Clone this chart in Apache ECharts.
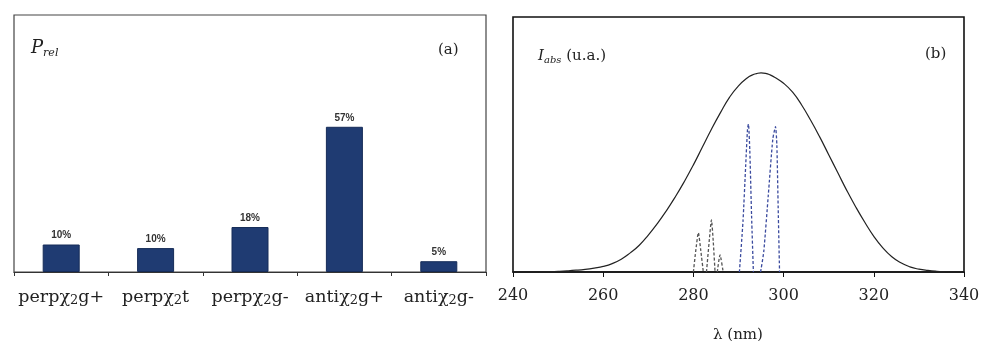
<!DOCTYPE html>
<html><head><meta charset="utf-8">
<script src="https://cdn.jsdelivr.net/npm/echarts@6/dist/echarts.min.js"></script>
<style>html,body{margin:0;padding:0;background:#fff}#c{width:991px;height:341px}</style>
</head><body><div id="c"></div>
<script>
// ---- data ----
var categories = [['perp','g+'],['perp','t'],['perp','g-'],['anti','g+'],['anti','g-']];
var barValues = [10.7, 9.3, 17.5, 56.5, 4.2];
var barLabels = ['10%','10%','18%','57%','5%'];
var xTicks = [240,260,280,300,320,340];
// absorption envelope (lambda nm, intensity a.u.)
var envLambda = [240,242,244,246,248,250,252,254,256,258,260,262,264,266,268,270,272,274,276,278,280,282,284,286,288,290,292,293,294,295,296,297,298,300,302,304,306,308,310,312,314,316,318,320,322,324,326,328,330,332,334,336,338,340];
var envValue  = [0,0.0003,0.0006,0.001,0.0017,0.0028,0.0045,0.007,0.0105,0.0155,0.022,0.033,0.05,0.075,0.105,0.145,0.19,0.24,0.295,0.355,0.42,0.49,0.56,0.625,0.685,0.73,0.762,0.772,0.778,0.781,0.779,0.773,0.764,0.74,0.705,0.655,0.595,0.53,0.46,0.39,0.32,0.255,0.195,0.14,0.095,0.06,0.036,0.02,0.011,0.006,0.003,0.0015,0.0005,0];
// individual conformer bands
var peak1 = [[280.0,0],[280.5,0.08],[281.1,0.154],[281.6,0.09],[282.2,0]];
var peak2 = [[282.9,0],[283.5,0.12],[284.0,0.204],[284.4,0.12],[284.8,0]];
var peak3 = [[285.3,0],[285.9,0.067],[286.6,0]];
var peak4 = [[290.2,0],[291.0,0.2],[291.6,0.42],[292.0,0.56],[292.2,0.58],[292.5,0.48],[292.9,0.22],[293.3,0]];
var peak5 = [[294.9,0],[295.6,0.08],[296.6,0.3],[297.6,0.52],[298.2,0.57],[298.5,0.5],[298.8,0.25],[299.1,0]];

var chart = echarts.init(document.getElementById('c'));
var serif = 'DejaVu Serif';
function pairs(xs, ys){ return xs.map(function(x,i){return [x, ys[i]];}); }
var peakColorSmall = '#555';
var peakColorBig = '#3a4a9e';
function peakSeries(d, col){
  return {type:'line', xAxisIndex:1, yAxisIndex:1, data:d, symbol:'none', smooth:0.2,
    lineStyle:{color:col, width:1.3, type:[3,2]}, z:3, silent:true};
}
function st(size, italic, pad){
  var o = {fontFamily:serif, fontStyle: italic ? 'italic' : 'normal', fontWeight:'normal', fontSize:size, color:'#222'};
  if (pad) o.padding = pad;
  return o;
}
chart.setOption({
  animation:false,
  backgroundColor:'#fff',
  title:[
    {left:26, top:33, text:'{p|P}{s|rel}', textStyle:{fontWeight:'normal', rich:{p:st(18,true), s:st(11,true,[10,0,0,0])}}},
    {left:433, top:38, text:'(a)', textStyle:st(15,false)},
    {left:533, top:42, text:'{p|I}{s|abs}{q| (u.a.)}', textStyle:{fontWeight:'normal', rich:{p:st(15,true), s:st(10,true,[8,0,0,0]), q:st(15,false)}}},
    {left:920, top:42, text:'(b)', textStyle:st(15,false)},
    {left:708, top:323, text:'λ (nm)', textStyle:st(15,false)}
  ],
  grid:[
    {left:14, right:505, top:15, bottom:69, show:true, borderColor:'#444', borderWidth:1.2, backgroundColor:'transparent'},
    {left:513, right:27, top:17, bottom:69, show:true, borderColor:'#111', borderWidth:1.6, backgroundColor:'transparent'}
  ],
  xAxis:[
    {type:'category', gridIndex:0, data:categories.map(function(c){return c[0]+'|'+c[1];}),
     axisLine:{lineStyle:{color:'#333', width:1.2}}, axisTick:{show:true, length:4, lineStyle:{color:'#333'}},
     axisLabel:{interval:0, margin:16, color:'#222', formatter:function(v){var p=v.split('|');return '{a|'+p[0]+'χ}{s|2}{a|'+p[1]+'}';},
       rich:{a:st(17.5,false), s:st(13,false,[6,0,0,0])}}},
    {type:'value', gridIndex:1, min:240, max:340, interval:20,
     axisLine:{onZero:false, lineStyle:{color:'#111', width:1.6}}, axisTick:{show:true, length:5, lineStyle:{color:'#111'}},
     axisLabel:{margin:16, color:'#222', fontFamily:serif, fontSize:16}, splitLine:{show:false}}
  ],
  yAxis:[
    {type:'value', gridIndex:0, min:0, max:100, axisLine:{show:false}, axisTick:{show:false}, axisLabel:{show:false}, splitLine:{show:false}},
    {type:'value', gridIndex:1, min:0, max:1, axisLine:{show:false}, axisTick:{show:false}, axisLabel:{show:false}, splitLine:{show:false}}
  ],
  series:[
    {type:'bar', xAxisIndex:0, yAxisIndex:0, data:barValues, barWidth:37,
     itemStyle:{color:'#1f3b72', borderColor:'#162c58', borderWidth:1},
     label:{show:true, position:'top', distance:4, fontFamily:'Liberation Sans', fontWeight:'bold', fontSize:10, color:'#333',
       formatter:function(p){return barLabels[p.dataIndex];}}},
    {type:'line', xAxisIndex:1, yAxisIndex:1, data:pairs(envLambda, envValue), symbol:'none', smooth:true,
     lineStyle:{color:'#222', width:1.2}, z:4},
    peakSeries(peak1, peakColorSmall),
    peakSeries(peak2, peakColorSmall),
    peakSeries(peak3, peakColorSmall),
    peakSeries(peak4, peakColorBig),
    peakSeries(peak5, peakColorBig)
  ]
});
</script></body></html>
